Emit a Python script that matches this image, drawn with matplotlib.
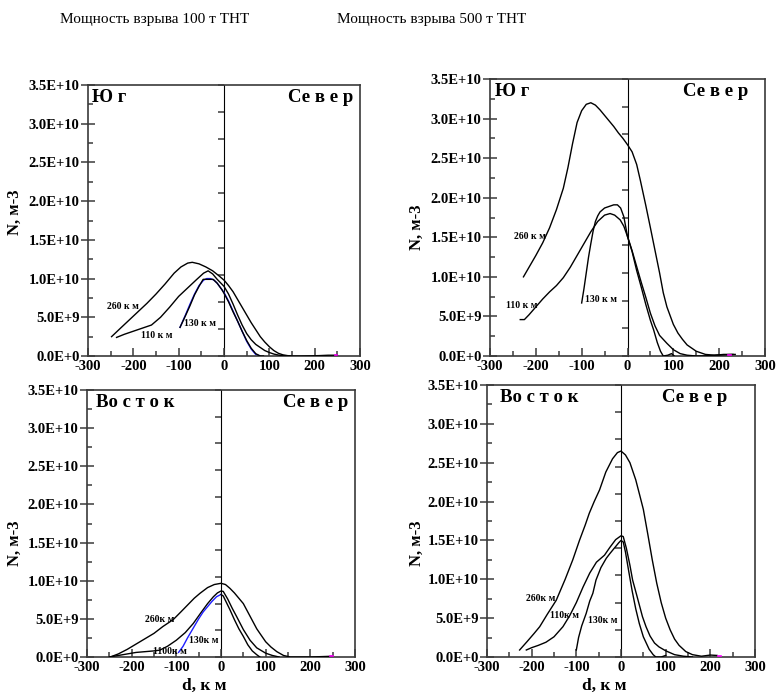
import matplotlib
matplotlib.use("Agg")
import math
import matplotlib.pyplot as plt
from matplotlib.ticker import MultipleLocator, FuncFormatter, NullFormatter

plt.rcParams['font.family'] = ['Liberation Serif', 'DejaVu Serif']

SCALE = 1e10  # densities below are given in units of 1E+10 m^-3

# ---------- 100 t TNT, South / North ----------
d_s100_260 = [-248, -230, -210, -190, -170, -150, -130, -110, -95, -80, -70, -55, -40, -25, -10, 0,
              10, 20, 30, 40, 50, 60, 70, 80, 90, 100, 110, 120, 130, 140, 150, 170, 190, 210, 230, 250]
n_s100_260 = [0.25, 0.35, 0.46, 0.57, 0.68, 0.80, 0.93, 1.07, 1.15, 1.20, 1.21, 1.19, 1.15, 1.10, 1.03, 0.98,
              0.91, 0.83, 0.73, 0.63, 0.53, 0.43, 0.34, 0.25, 0.18, 0.12, 0.07, 0.035, 0.015, 0.005, 0.0, 0.0,
              0.002, 0.005, 0.01, 0.01]
d_s100_110 = [-237, -220, -200, -180, -160, -140, -120, -100, -80, -60, -45, -35, -25, -15, -5, 0,
              10, 20, 30, 40, 50, 60, 70, 80, 90, 100, 110, 120, 130, 145]
n_s100_110 = [0.24, 0.28, 0.32, 0.36, 0.40, 0.50, 0.63, 0.77, 0.88, 0.99, 1.07, 1.10, 1.06, 0.99, 0.93, 0.90,
              0.80, 0.67, 0.53, 0.40, 0.29, 0.21, 0.15, 0.11, 0.07, 0.045, 0.025, 0.012, 0.004, 0.0]
d_s100_130 = [-97, -85, -75, -65, -55, -46, -35, -24, -15, -5, 0, 10, 20, 30, 40, 50, 60, 70, 80, 87]
n_s100_130 = [0.37, 0.52, 0.65, 0.79, 0.90, 0.99, 0.99, 0.99, 0.94, 0.86, 0.81, 0.70, 0.57, 0.45, 0.32,
              0.20, 0.10, 0.03, 0.0, 0.0]
d_s100_blue = [-97, -85, -75, -65, -55, -45, -38, -30, -22, -15, -5, 0, 10, 20, 30, 40, 50, 60, 70, 80]
n_s100_blue = [0.37, 0.53, 0.67, 0.80, 0.91, 0.98, 1.00, 1.00, 0.98, 0.94, 0.86, 0.82, 0.71, 0.58, 0.45,
               0.32, 0.19, 0.09, 0.02, 0.0]
d_s100_tail = [244, 250]
n_s100_tail = [0.01, 0.01]

# ---------- 500 t TNT, South / North ----------
d_s500_260 = [-227, -215, -200, -185, -170, -155, -140, -130, -120, -110, -100, -90, -80, -70, -60, -50,
              -40, -30, -20, -10, 0, 10, 20, 28, 40, 50, 57, 70, 78, 86, 100, 110, 120, 130, 150, 170,
              190, 210, 235]
n_s500_260 = [1.00, 1.12, 1.27, 1.43, 1.62, 1.85, 2.12, 2.38, 2.68, 2.95, 3.10, 3.18, 3.20, 3.17, 3.11,
              3.04, 2.97, 2.90, 2.82, 2.75, 2.67, 2.58, 2.42, 2.22, 1.90, 1.62, 1.42, 1.05, 0.80, 0.62,
              0.40, 0.29, 0.21, 0.14, 0.06, 0.02, 0.01, 0.02, 0.02]
d_s500_110 = [-234, -225, -215, -200, -185, -170, -155, -140, -125, -110, -95, -80, -65, -50, -38, -28,
              -16, -8, 0, 10, 20, 30, 40, 50, 60, 70, 86, 100, 115, 130, 150, 170, 190, 210, 230]
n_s500_110 = [0.46, 0.46, 0.52, 0.62, 0.72, 0.81, 0.89, 0.99, 1.12, 1.27, 1.42, 1.57, 1.70, 1.78, 1.80,
              1.78, 1.72, 1.64, 1.51, 1.33, 1.13, 0.93, 0.74, 0.54, 0.38, 0.26, 0.16, 0.08, 0.03, 0.01,
              0.0, 0.002, 0.01, 0.015, 0.02]
d_s500_130 = [-100, -95, -90, -85, -80, -75, -70, -65, -60, -50, -40, -30, -22, -15, -8, 0, 10, 20, 30,
              40, 50, 57, 65, 72, 78, 88, 96, 102]
n_s500_130 = [0.67, 0.85, 1.05, 1.25, 1.42, 1.58, 1.70, 1.77, 1.82, 1.87, 1.89, 1.91, 1.91, 1.87, 1.76,
              1.51, 1.32, 1.08, 0.87, 0.65, 0.45, 0.33, 0.17, 0.06, 0.0, 0.01, 0.03, 0.0]
d_s500_tail = [220, 226]
n_s500_tail = [0.015, 0.015]

# ---------- 100 t TNT, East / North ----------
d_e100_260 = [-248, -230, -210, -190, -170, -150, -130, -107, -90, -75, -60, -47, -30, -15, 0, 10, 20,
              30, 40, 50, 60, 70, 80, 87, 100, 112, 125, 140, 155, 200, 250]
n_e100_260 = [0.0, 0.04, 0.10, 0.17, 0.24, 0.31, 0.40, 0.49, 0.59, 0.68, 0.77, 0.835, 0.91, 0.95, 0.966,
              0.95, 0.90, 0.84, 0.77, 0.70, 0.59, 0.48, 0.37, 0.31, 0.20, 0.13, 0.07, 0.02, 0.0, 0.0, 0.01]
d_e100_110 = [-250, -230, -210, -190, -170, -150, -137, -120, -100, -80, -62, -45, -30, -17, -8, 0, 5,
              15, 25, 35, 50, 65, 80, 100, 115, 130]
n_e100_110 = [0.0, 0.02, 0.04, 0.06, 0.07, 0.08, 0.09, 0.14, 0.22, 0.32, 0.44, 0.58, 0.70, 0.79, 0.84,
              0.865, 0.86, 0.76, 0.64, 0.53, 0.36, 0.22, 0.12, 0.05, 0.02, 0.0]
d_e100_130 = [0, 5, 10, 20, 30, 40, 50, 60, 70, 80, 87]
n_e100_130 = [0.82, 0.80, 0.74, 0.62, 0.49, 0.37, 0.27, 0.16, 0.08, 0.03, 0.0]
d_e100_blue = [-95, -85, -75, -62, -50, -40, -30, -20, -10, 0]
n_e100_blue = [0.06, 0.14, 0.25, 0.38, 0.50, 0.59, 0.66, 0.73, 0.79, 0.82]
d_e100_tail = [244, 250]
n_e100_tail = [0.01, 0.01]

# ---------- 500 t TNT, East / North ----------
d_e500_260 = [-227, -210, -195, -182, -165, -145, -125, -108, -93, -80, -71, -60, -48, -34, -19, -8, 0,
              10, 20, 33, 42, 50, 60, 70, 80, 90, 100, 110, 120, 130, 145, 160, 180, 200, 215]
n_e500_260 = [0.09, 0.20, 0.30, 0.39, 0.55, 0.73, 1.00, 1.25, 1.50, 1.70, 1.85, 2.00, 2.15, 2.38, 2.55,
              2.63, 2.65, 2.60, 2.50, 2.28, 2.08, 1.90, 1.58, 1.25, 0.95, 0.70, 0.50, 0.35, 0.23, 0.15,
              0.07, 0.03, 0.01, 0.025, 0.02]
d_e500_110 = [-212, -200, -185, -168, -150, -130, -115, -100, -85, -70, -55, -45, -37, -25, -12, 0, 5,
              12, 20, 26, 35, 48, 56, 65, 75, 85, 100, 120, 140, 160]
n_e500_110 = [0.09, 0.12, 0.15, 0.19, 0.26, 0.39, 0.53, 0.70, 0.90, 1.08, 1.22, 1.27, 1.31, 1.41, 1.51,
              1.56, 1.55, 1.40, 1.18, 0.99, 0.80, 0.52, 0.39, 0.27, 0.18, 0.13, 0.08, 0.03, 0.01, 0.0]
d_e500_130 = [-100, -95, -88, -78, -70, -63, -56, -45, -33, -25, -15, -5, 0, 5, 10, 18, 25, 33, 41, 50,
              63, 72, 78, 90, 100]
n_e500_130 = [0.09, 0.25, 0.40, 0.56, 0.72, 0.82, 0.99, 1.15, 1.27, 1.33, 1.40, 1.47, 1.50, 1.48, 1.35,
              1.08, 0.85, 0.62, 0.43, 0.26, 0.10, 0.03, 0.0, 0.0, 0.02]
d_e500_tail = [218, 224]
n_e500_tail = [0.01, 0.01]

titles = ["Мощность взрыва 100 т ТНТ", "Мощность взрыва 500 т ТНТ"]
left_names = ["Ю г", "Во с т о к"]
right_name = "Се в е р"
y_label = "N, м-3"
x_label = "d, к м"

FRAME = '#3a3a3a'


def sci_fmt(v, pos):
    if v < -1:
        return ""
    if abs(v) < 1:
        return "0.0E+0"
    e = int(math.floor(math.log10(v) + 1e-9))
    m = v / 10 ** e
    return f"{m:.1f}E+{e}"


def setup(ax):
    ax.set_xlim(-300, 300)
    ax.set_ylim(0, 3.5e10)
    for s in ax.spines.values():
        s.set_color(FRAME)
        s.set_linewidth(1.2)
    ax.xaxis.set_major_locator(MultipleLocator(100))
    ax.xaxis.set_minor_locator(MultipleLocator(50))
    ax.yaxis.set_major_locator(MultipleLocator(0.5e10))
    ax.yaxis.set_minor_locator(MultipleLocator(0.25e10))
    ax.yaxis.set_major_formatter(FuncFormatter(sci_fmt))
    ax.xaxis.set_major_formatter(FuncFormatter(lambda v, p: f"{int(round(v))}"))
    ax.tick_params(axis='x', which='major', direction='in', length=6, width=1.1,
                   color=FRAME, labelsize=10.5, pad=3)
    ax.tick_params(axis='x', which='minor', direction='in', length=3.5, width=1.1, color=FRAME)
    ax.tick_params(axis='y', which='major', direction='inout', length=10, width=1.1,
                   color=FRAME, labelsize=10.5, pad=1)
    ax.tick_params(axis='y', which='minor', direction='in', length=3.5, width=1.1, color=FRAME)
    for lab in ax.get_xticklabels() + ax.get_yticklabels():
        lab.set_fontweight('bold')
    # central divider at d = 0 with its own tick marks
    sec = ax.secondary_yaxis(0.5)
    sec.set_yticks([k * 0.35e10 for k in range(11)])
    sec.yaxis.set_major_formatter(NullFormatter())
    sec.tick_params(direction='in', length=4, width=1.1, color=FRAME)
    sec.spines['left'].set_color(FRAME)
    sec.spines['left'].set_linewidth(1.2)


def curve(ax, d, n, color='black', lw=1.0, z=3):
    ax.plot(d, [v * SCALE for v in n], color=color, lw=lw, zorder=z)


def label(ax, d, n, text):
    ax.text(d, n * SCALE, text, fontsize=7, fontweight='bold', ha='center', va='center', zorder=5)


fig = plt.figure(figsize=(7.79, 6.94), dpi=100)
W, H = 779.0, 694.0

ax_tl = fig.add_axes([88 / W, 1 - 356 / H, 272 / W, 271 / H])
ax_tr = fig.add_axes([490 / W, 1 - 356 / H, 275 / W, 277 / H])
ax_bl = fig.add_axes([87 / W, 1 - 657 / H, 268 / W, 267 / H])
ax_br = fig.add_axes([487 / W, 1 - 657 / H, 268 / W, 272 / H])
for a in (ax_tl, ax_tr, ax_bl, ax_br):
    setup(a)

# 100 t, South / North
curve(ax_tl, d_s100_blue, n_s100_blue, color='#1f1fff', lw=1.0, z=2)
curve(ax_tl, d_s100_260, n_s100_260)
curve(ax_tl, d_s100_110, n_s100_110)
curve(ax_tl, d_s100_130, n_s100_130)
curve(ax_tl, d_s100_tail, n_s100_tail, color='magenta', lw=1.2)
label(ax_tl, -222, 0.64, "260 к м")
label(ax_tl, -148, 0.26, "110 к м")
label(ax_tl, -52, 0.42, "130 к м")

# 500 t, South / North
curve(ax_tr, d_s500_260, n_s500_260)
curve(ax_tr, d_s500_110, n_s500_110)
curve(ax_tr, d_s500_130, n_s500_130)
curve(ax_tr, d_s500_tail, n_s500_tail, color='magenta', lw=1.2)
label(ax_tr, -212, 1.51, "260 к м")
label(ax_tr, -230, 0.64, "110 к м")
label(ax_tr, -58, 0.71, "130 к м")

# 100 t, East / North
curve(ax_bl, d_e100_260, n_e100_260)
curve(ax_bl, d_e100_110, n_e100_110)
curve(ax_bl, d_e100_blue, n_e100_blue, color='#1f1fff', lw=1.0)
curve(ax_bl, d_e100_130, n_e100_130)
curve(ax_bl, d_e100_tail, n_e100_tail, color='magenta', lw=1.2)
label(ax_bl, -138, 0.49, "260к м")
label(ax_bl, -38, 0.21, "130к м")
label(ax_bl, -114, 0.07, "1100к м")

# 500 t, East / North
curve(ax_br, d_e500_260, n_e500_260)
curve(ax_br, d_e500_110, n_e500_110)
curve(ax_br, d_e500_130, n_e500_130)
curve(ax_br, d_e500_tail, n_e500_tail, color='magenta', lw=1.2)
label(ax_br, -179, 0.755, "260к м")
label(ax_br, -127, 0.54, "110к м")
label(ax_br, -41, 0.476, "130к м")

# direction names inside each panel
for ax, name, dx_left, dx_right in ((ax_tl, left_names[0], 4, 7), (ax_tr, left_names[0], 5, 17),
                                    (ax_bl, left_names[1], 9, 7), (ax_br, left_names[1], 13, 28)):
    bb = ax.get_position()
    wpx = bb.width * W
    ax.text(dx_left / wpx, 0.955, name, transform=ax.transAxes, fontsize=13.5,
            fontweight='bold', ha='left', va='center')
    ax.text(1 - dx_right / wpx, 0.955, right_name, transform=ax.transAxes, fontsize=13.5,
            fontweight='bold', ha='right', va='center')

# axis labels
for (xp, yp) in ((15, 212), (417, 227), (15, 543), (417, 543)):
    fig.text(xp / W, 1 - yp / H, y_label, rotation=90, fontsize=12, fontweight='bold',
             ha='center', va='center')
fig.text(204 / W, 1 - 686 / H, x_label, fontsize=12.5, fontweight='bold', ha='center', va='center')
fig.text(604 / W, 1 - 686 / H, x_label, fontsize=12.5, fontweight='bold', ha='center', va='center')

# headings
fig.text(155 / W, 1 - 19 / H, titles[0], fontsize=11, ha='center', va='center')
fig.text(432 / W, 1 - 19 / H, titles[1], fontsize=11, ha='center', va='center')

fig.savefig("out.png", dpi=100)
